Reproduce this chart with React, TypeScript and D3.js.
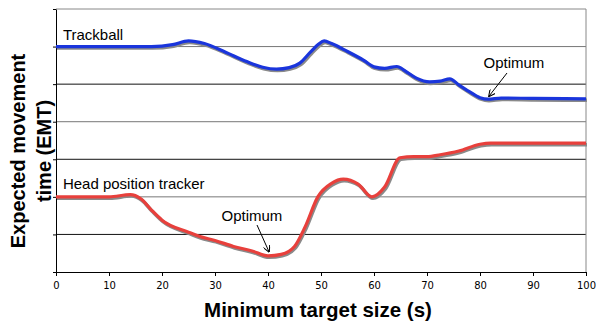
import React, { useRef, useEffect } from "react";
import * as d3 from "d3";

const width = 596;
const height = 324;
const margin = { top: 9, right: 10, bottom: 52, left: 56 };

const xTicks = [0, 10, 20, 30, 40, 50, 60, 70, 80, 90, 100];
const yTicks = [0, 1, 2, 3, 4, 5, 6, 7];
// gridline shades as they appear in the picture
const gridShade = ["#000", "#111", "#777", "#111", "#777", "#111", "#777", "#888"];

const trackballX = [0, 10, 18, 22, 25, 28, 32, 36, 39, 41.6, 44, 46, 48, 49.5, 50.6, 52, 55, 58, 60, 62, 64.3, 66, 68, 70.5, 72.5, 74.3, 76, 78, 80, 81.5, 84, 90, 100];
const trackballY = [6.0, 6.0, 6.0, 6.05, 6.15, 6.08, 5.85, 5.6, 5.45, 5.4, 5.44, 5.56, 5.85, 6.06, 6.15, 6.08, 5.87, 5.64, 5.46, 5.42, 5.47, 5.34, 5.16, 5.06, 5.08, 5.14, 4.98, 4.8, 4.64, 4.6, 4.63, 4.62, 4.61];

const headX = [0, 10, 14, 16, 18, 20, 25, 27, 30, 33.5, 37, 40, 42.5, 45, 47, 49.4, 52, 54.2, 57, 59.6, 62, 64.9, 67.5, 70, 72.5, 76, 80, 82, 90, 100];
const headY = [2.0, 2.0, 2.06, 1.95, 1.65, 1.38, 1.06, 0.95, 0.84, 0.68, 0.56, 0.43, 0.47, 0.68, 1.2, 2.0, 2.36, 2.47, 2.34, 2.0, 2.26, 3.04, 3.07, 3.07, 3.12, 3.22, 3.4, 3.43, 3.43, 3.43];

const App = () => {
  const svgRef = useRef<SVGSVGElement>(null);

  useEffect(() => {
    const svg = d3.select(svgRef.current);
    svg.selectAll("*").remove();

    const x = d3.scaleLinear().domain([0, 100]).range([margin.left, width - margin.right]);
    const y = d3.scaleLinear().domain([0, 7]).range([height - margin.bottom, margin.top]);

    // gridlines
    svg
      .append("g")
      .selectAll("line")
      .data(yTicks.slice(1))
      .join("line")
      .attr("x1", x(0))
      .attr("x2", x(100))
      .attr("y1", (d) => y(d))
      .attr("y2", (d) => y(d))
      .attr("stroke", (d) => gridShade[d])
      .attr("stroke-width", 1);

    // right frame
    svg
      .append("line")
      .attr("x1", x(100))
      .attr("x2", x(100))
      .attr("y1", y(7))
      .attr("y2", y(0))
      .attr("stroke", "#888");

    // axes
    const xAxis = d3.axisBottom(x).tickValues(xTicks).tickSize(4).tickSizeOuter(0);
    const gx = svg
      .append("g")
      .attr("transform", `translate(0,${y(0)})`)
      .call(xAxis);
    gx.select(".domain").attr("stroke", "#000");
    gx.selectAll("text")
      .attr("font-family", "DejaVu Sans")
      .attr("font-size", 10)
      .attr("fill", "#000")
      .attr("dy", "0.95em");

    const yAxis = d3.axisLeft(y).tickValues(yTicks).tickSize(3).tickSizeOuter(0).tickFormat(() => "");
    const gy = svg
      .append("g")
      .attr("transform", `translate(${x(0)},0)`)
      .call(yAxis);
    gy.select(".domain").attr("stroke", "#000");

    const series = [
      { xs: trackballX, ys: trackballY, color: "#1a35dc" },
      { xs: headX, ys: headY, color: "#e8403c" },
    ];

    series.forEach((s) => {
      const pts: [number, number][] = s.xs.map((v, i) => [x(v), y(s.ys[i])]);
      const gen = d3.line().curve(d3.curveMonotoneX);
      svg
        .append("path")
        .attr("d", gen(pts))
        .attr("fill", "none")
        .attr("stroke", "#8a8a8a")
        .attr("stroke-width", 3.5)
        .attr("transform", "translate(1,1.5)");
      svg
        .append("path")
        .attr("d", gen(pts))
        .attr("fill", "none")
        .attr("stroke", s.color)
        .attr("stroke-width", 3.2)
        .attr("stroke-linejoin", "round");
    });

    // series labels
    const label = (tx: number, ty: number, text: string) =>
      svg
        .append("text")
        .attr("x", tx)
        .attr("y", ty)
        .attr("font-family", "Liberation Sans, Arial, sans-serif")
        .attr("font-size", 15)
        .attr("fill", "#000")
        .text(text);

    label(x(1.3), y(6.15) - 1, "Trackball");
    label(x(1.3), 189, "Head position tracker");
    label(483.5, 68, "Optimum");
    label(221.5, 221, "Optimum");

    // arrows
    svg
      .append("defs")
      .append("marker")
      .attr("id", "arr")
      .attr("viewBox", "0 0 10 10")
      .attr("refX", 9)
      .attr("refY", 5)
      .attr("markerWidth", 7)
      .attr("markerHeight", 7)
      .attr("orient", "auto")
      .append("path")
      .attr("d", "M0,0 L10,5 L0,10")
      .attr("fill", "none")
      .attr("stroke", "#000")
      .attr("stroke-width", 1.5);

    const arrow = (x1: number, y1: number, x2: number, y2: number) =>
      svg
        .append("line")
        .attr("x1", x1)
        .attr("y1", y1)
        .attr("x2", x2)
        .attr("y2", y2)
        .attr("stroke", "#000")
        .attr("stroke-width", 1)
        .attr("marker-end", "url(#arr)");

    arrow(507, 73, x(81.7), y(4.6) - 3);
    arrow(257, 225, x(40.2), y(0.43) - 4);

    // axis titles
    svg
      .append("text")
      .attr("x", 318)
      .attr("y", 317)
      .attr("text-anchor", "middle")
      .attr("font-family", "Liberation Sans, Arial, sans-serif")
      .attr("font-weight", "bold")
      .attr("font-size", 20.5)
      .attr("fill", "#000")
      .text("Minimum target size (s)");

    const yt = svg
      .append("text")
      .attr("transform", "translate(25,151) rotate(-90)")
      .attr("text-anchor", "middle")
      .attr("font-family", "Liberation Sans, Arial, sans-serif")
      .attr("font-weight", "bold")
      .attr("font-size", 20)
      .attr("fill", "#000");
    yt.append("tspan").attr("x", 0).attr("y", 0).text("Expected movement");
    yt.append("tspan").attr("x", 0).attr("y", 26).text("time (EMT)");
  }, []);

  return (
    <svg
      ref={svgRef}
      width={width}
      height={height}
      style={{ position: "absolute", left: 0, top: 0, background: "#fff" }}
    />
  );
};

export default App;
